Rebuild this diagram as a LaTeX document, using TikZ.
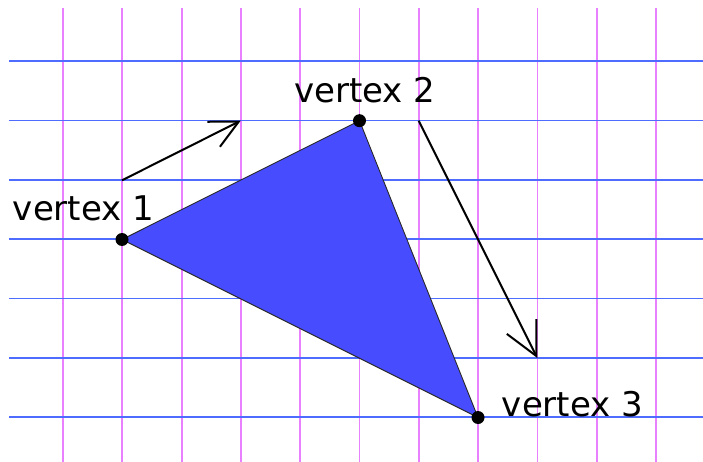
\documentclass[tikz,border=0pt]{standalone}
\usepackage{fontspec}
\setmainfont{DejaVu Sans}
\usetikzlibrary{arrows.meta}
\definecolor{gridv}{RGB}{232,128,255}
\definecolor{gridh}{RGB}{78,108,255}
\definecolor{trifill}{RGB}{72,76,255}
\definecolor{triedge}{RGB}{40,40,40}
\tikzset{
  vline/.style={gridv, line width=1.8pt},
  hline/.style={gridh, line width=1.8pt},
  dot/.style={circle, fill=black, inner sep=0pt, minimum size=13pt},
  lbl/.style={anchor=base west, inner sep=0pt, font=\fontsize{34}{40}\selectfont},
  vec/.style={line width=2pt},
  vecshort/.style={vec, -{Straight Barb[length=28pt,width=28pt,line width=2pt]}},
  veclong/.style={vec, -{Straight Barb[length=33pt,width=33pt,line width=2pt]}}
}
\begin{document}
\begin{tikzpicture}[x=1pt,y=-1pt]
\useasboundingbox (0,0) rectangle (703,462);
\fill[white] (0,0) rectangle (703,462);
\foreach \i in {0,...,10} \draw[vline] ({63+59.3*\i},8) -- ({63+59.3*\i},462);
\foreach \j in {0,...,6} \draw[hline] (9,{61.3+59.3*\j}) -- (703,{61.3+59.3*\j});
\coordinate (v1) at (122,239.5);
\coordinate (v2) at (359.5,120.7);
\coordinate (v3) at (478,417.5);
\filldraw[fill=trifill, draw=triedge, line width=0.9pt, line join=round] (v1) -- (v2) -- (v3) -- cycle;
\node[dot] (d1) at (v1) {};
\node[dot] (d2) at (v2) {};
\node[dot] (d3) at (v3) {};
\node[lbl] (l1) at (12.7,221) {vertex 1};
\node[lbl] (l2) at (294,102.3) {vertex 2};
\node[lbl] (l3) at (501.7,416.7) {vertex 3};
\coordinate (a1s) at (122,180.3);
\coordinate (a1e) at (240.7,120.7);
\coordinate (a2s) at (418.6,120.7);
\coordinate (a2e) at (537.3,358);
\draw[vecshort] (a1s) -- (a1e);
\draw[veclong] (a2s) -- (a2e);
\end{tikzpicture}
\end{document}
